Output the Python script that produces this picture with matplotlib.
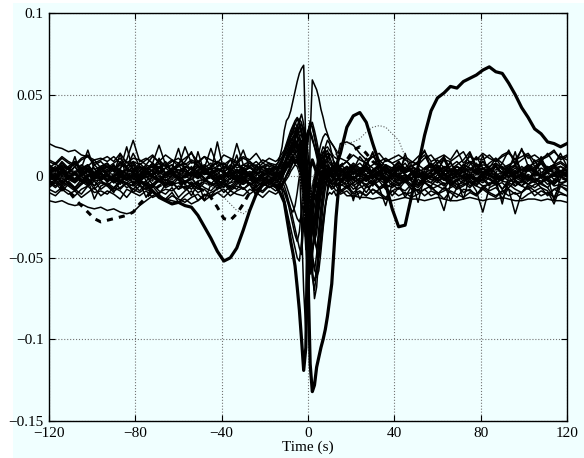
import matplotlib
matplotlib.use("Agg")
import matplotlib.pyplot as plt
import numpy as np
from matplotlib.patches import Rectangle

# sample times (s): coarse outside the event, 1 s steps around it
t = np.r_[np.arange(-120, -14, 3), np.arange(-14, 15, 1), np.arange(15, 121, 3)]

# thin traces, values in 1e-3 units (left | centre | right)
thin_traces = [
    [20, 18, 17, 15, 16, 13, 12, 10, 11, 9, 12, 8, 10, 22, 9, 11, 8, 19, 7, 10, 6, 18, 8, 9, 5, 17, 6, 8, 5, 20, 7, 6, 9, 5, 7, 6,
     8, 12, 18, 28, 34, 36, 40, 46, 52, 58, 63, 66, 68, 20, -40, -55, -45, -28, -12, -2, 4, 8, 6, 3, 5, 2, 4, 1, 3,
     4, 2, 6, 3, 8, 5, 2, 7, 4, 9, 3, 6, 2, 5, 8, 4, 10, 3, 6, 2, 7, 12, 5, 3, 8, 4, 6, 11, 3, 7, 5, 9, 4, 6, 8, 5],
    [-15, -16, -15, -17, -18, -17, -19, -20, -19, -21, -20, -22, -23, -22, -18, -15, -12, -10, -8, -9, -6, -7, -5, -8, -4, -6, -3, -5, -7, -4, -2, -5, -3, -6, -4, -2,
     -3, 0, 4, 8, 12, 15, 18, 20, 22, 18, 12, 5, -10, -40, -70, 25, 59, 56, 53, 48, 41, 36, 30, 26, 22, 20, 18, 15, 10,
     -8, -12, -12, -13, -13, -14, -13, -14, -15, -14, -13, -14, -14, -15, -14, -13, -14, -15, -15, -14, -13, -14, -15, -14, -14, -13, -14, -15, -15, -14, -14, -15, -14, -15, -15, -16],
    [6, 3, 8, 4, 1, 5, 7, 2, 4, 6, 3, 9, 5, 2, 6, 4, 8, 3, 5, 7, 2, 6, 4, 9, 3, 5, 1, 6, 4, 8, 3, 5, 7, 2, 4, 6,
     5, 8, 10, 14, 18, 20, 24, 26, 28, 24, 10, -30, -70, -95, -80, -50, -25, -10, 0, 6, 10, 12, 8, 5, 3, 6, 4, 2, 5,
     3, 6, 2, 5, 1, 4, 7, 3, 0, 5, 2, 6, 4, 1, 8, 3, 5, 2, 6, 4, 9, 2, 5, 3, 7, 1, 4, 6, 2, 5, 3, 8, 4, 2, 6, 3],
    [-4, -7, -3, -6, -9, -5, -2, -8, -4, -6, -10, -3, -7, -5, -9, -4, -6, -11, -5, -3, -8, -6, -12, -4, -7, -9, -5, -10, -6, -3, -8, -5, -9, -4, -7, -5,
     -6, -4, -2, 2, 6, 10, 14, 18, 22, 26, 30, 32, 28, 15, -5, -30, -55, -75, -68, -50, -32, -18, -8, -2, 2, 0, -3, -5, -4,
     -6, -3, -8, -5, -10, -4, -7, -18, -5, -8, -3, -6, -9, -4, -7, -10, -21, -5, -8, -6, -3, -9, -22, -7, -5, -4, -8, -23, -10, -5, -3, -7, -9, -17, -6, -8],
    [2, -1, 4, 0, -3, 3, 1, -2, 5, 0, -4, 2, -1, 3, -2, 1, 4, -3, 0, 2, -1, 5, -2, 1, -4, 3, 0, -1, 2, -3, 4, 1, -2, 0, 3, -1,
     1, 3, 0, 4, 7, 10, 15, 20, 25, 30, 35, 33, 25, 10, -20, -60, -50, -35, -20, -8, 2, 10, 18, 22, 20, 14, 8, 4, 2,
     0, 3, -2, 1, 4, -1, 2, -3, 0, 5, 1, -2, 3, 0, -1, 4, 2, -3, 1, 0, 3, -2, 2, 5, -1, 0, 3, 1, -2, 4, 0, 2, -1, 3, 1, 0],
    [9, 7, 11, 8, 6, 10, 12, 7, 9, 5, 8, 11, 6, 9, 7, 10, 13, 8, 6, 9, 11, 7, 10, 8, 12, 6, 9, 7, 10, 8, 11, 9, 6, 10, 8, 7,
     8, 10, 12, 15, 19, 22, 25, 27, 30, 26, 20, 5, -20, -45, -38, -25, -12, -2, 6, 14, 20, 24, 26, 25, 22, 20, 18, 16, 14,
     20, 21, 19, 14, 10, 12, 9, 11, 8, 10, 12, 9, 7, 11, 13, 8, 10, 9, 12, 15, 8, 11, 10, 13, 9, 12, 14, 10, 16, 11, 13, 10, 12, 15, 11, 13],
    [-2, 1, -5, -1, 2, -3, -6, 0, -2, 3, -4, -1, 1, -5, -2, 0, -3, 2, -6, -1, 1, -4, -2, 3, -1, -5, 0, -3, 1, -2, -4, 2, -1, -3, 0, -2,
     0, -2, 1, 3, 5, 8, 12, 15, 18, 22, 24, 20, 12, 0, -15, -28, -35, -30, -20, -10, -2, 4, 8, 6, 3, 0, -2, 1, -1,
     -3, 1, -2, -5, 0, -4, 2, -1, -6, -2, 1, -3, -5, 0, -2, -4, 1, -6, -3, 0, -2, -5, 1, -1, -4, -2, 0, -6, -3, 1, -2, -4, 0, -5, -1, -3],
    [4, 2, 6, 1, 3, 5, 0, 7, 3, 2, 5, 4, 18, 3, 6, 1, 4, 8, 2, 5, 17, 3, 1, 6, 4, 2, 21, 3, 5, 1, 4, 6, 2, 3, 5, 1,
     3, 5, 4, 7, 10, 12, 16, 18, 20, 17, 10, 0, -15, -30, -25, -15, -6, 0, 5, 8, 10, 12, 9, 6, 4, 2, 5, 3, 1,
     2, 5, 1, 4, 3, 0, 6, 2, 4, 1, 3, 5, 0, 2, 4, 6, 1, 3, 0, 5, 2, 4, 1, 3, 6, 0, 2, 5, 1, 4, 3, 0, 2, 5, 1, 3],
    [-8, -10, -7, -9, -12, -8, -6, -10, -9, -11, -7, -9, -13, -8, -10, -7, -9, -12, -14, -10, -16, -12, -9, -15, -11, -13, -10, -8, -12, -9, -7, -11, -8, -10, -6, -9,
     -8, -6, -5, -3, 0, 3, 6, 10, 14, 16, 15, 12, 6, 0, -8, -15, -20, -24, -25, -20, -12, -5, 0, -3, -6, -8, -7, -9, -8,
     -10, -7, -11, -9, -12, -8, -10, -13, -9, -7, -11, -10, -8, -12, -9, -11, -7, -10, -13, -8, -9, -11, -7, -10, -12, -9, -8, -11, -10, -7, -12, -9, -11, -8, -10, -12],
    [1, 4, -2, 2, 6, 0, 3, -1, 5, 2, -3, 4, 1, 7, -1, 3, 0, 5, 2, -2, 4, 1, 6, -1, 3, 0, 5, 2, -2, 4, 1, 3, 0, 6, 2, 4,
     3, 6, 8, 12, 14, 18, 22, 24, 26, 28, 30, 26, 20, 12, 2, -10, -22, -35, -45, -50, -42, -30, -18, -8, 0, 4, 6, 3, 5,
     4, 1, 5, 2, 7, 0, 3, 6, 1, 4, 8, 2, 5, 0, 3, 6, 2, 9, 1, 4, 3, 7, 0, 5, 2, 8, 4, 1, 6, 3, 10, 2, 5, 7, 3, 6],
    [-1, -3, 0, -2, -4, -1, 1, -3, -2, 0, -4, -2, -5, -3, -6, -8, -10, -12, -14, -15, -16, -14, -17, -15, -12, -10, -8, -6, -4, -3, -5, -2, -4, -1, -3, 0,
     -2, -5, -9, -14, -20, -26, -32, -38, -44, -50, -52, -40, -15, 10, 24, 28, 24, 18, 12, 6, 2, 0, -2, 1, -1, -3, 0, -2, 0,
     -2, 0, -4, -1, -3, 1, -2, -5, 0, -3, -1, 2, -4, -2, 0, -3, -6, -1, -2, 1, -4, -3, 0, -2, -5, -1, 2, -3, -4, 0, -2, -1, -5, -3, 0, -2],
    [5, 8, 3, 6, 9, 4, 7, 2, 6, 8, 3, 5, 9, 4, 6, 2, 7, 5, 9, 3, 6, 8, 4, 7, 2, 5, 9, 6, 3, 7, 5, 8, 4, 6, 3, 5,
     4, 7, 10, 13, 17, 20, 24, 28, 32, 35, 32, 26, 18, 8, -5, -20, -32, -40, -35, -22, -10, -2, 5, 10, 14, 12, 9, 7, 5,
     6, 9, 4, 12, 7, 14, 5, 10, 8, 3, 11, 6, 9, 13, 5, 8, 12, 4, 7, 10, 15, 6, 9, 5, 11, 8, 16, 7, 10, 13, 6, 9, 14, 8, 12, 10],
    [3, 6, 1, 5, 2, 7, 4, 0, 5, 3, 6, 2, 4, 8, 1, 5, 3, 6, 2, 4, 7, 1, 5, 3, 6, 0, 4, 2, 7, 3, 5, 1, 6, 4, 2, 5,
     4, 2, 5, 7, 9, 12, 15, 18, 16, 14, 10, 4, -4, -12, -18, -22, -16, -8, -2, 3, 6, 4, 2, 5, 3, 1, 4, 2, 5,
     2, 6, 3, 0, 5, 2, 7, 4, 1, 6, 3, 5, 0, 4, 7, 2, 5, 1, 6, 3, 4, 8, 2, 5, 0, 3, 6, 2, 4, 7, 1, 5, 3, 6, 2, 4],
    [-3, -6, -1, -4, -7, -2, -5, 0, -3, -6, -2, -8, -4, -1, -5, -3, -7, -2, -4, -6, -1, -5, -8, -3, -2, -6, -4, -7, -1, -3, -5, -2, -6, -4, -1, -3,
     -2, -4, -1, 2, 5, 8, 11, 14, 17, 20, 18, 12, 2, -10, -25, -38, -45, -40, -28, -15, -6, 0, 3, 1, -2, -4, -1, -3, -2,
     -4, -1, -6, -3, -5, -2, -7, -4, 0, -5, -3, -8, -2, -4, -6, -1, -5, -3, -7, -2, -4, -6, -1, -5, -3, -8, -2, -4, -6, -3, -1, -5, -7, -2, -4, -3],
    [0, 2, -2, 1, 12, -1, 3, 0, -3, 2, 1, 14, -2, 0, 3, -1, 2, 11, 0, -2, 1, 3, -1, 15, 2, 0, -3, 1, 2, 13, -1, 0, 2, -2, 1, 0,
     1, 3, 0, -3, -6, -10, -14, -18, -22, -26, -28, -24, -10, 10, 22, 30, 33, 28, 22, 15, 9, 5, 2, 0, 3, 1, -1, 2, 0,
     0, 3, -1, 2, 11, 0, -2, 3, 1, -1, 14, 2, 0, -3, 1, 2, 12, -1, 0, 3, -2, 1, 13, 0, 2, -1, 3, 15, 0, -2, 1, 12, 2, 0, -1, 1],
    [7, 4, 9, 5, 8, 3, 6, 10, 5, 7, 4, 8, 6, 9, 3, 7, 5, 10, 6, 4, 8, 5, 9, 7, 3, 6, 8, 4, 10, 5, 7, 9, 4, 6, 8, 5,
     6, 8, 11, 14, 18, 22, 26, 30, 33, 30, 24, 15, 5, -6, -15, -20, -14, -6, 2, 8, 12, 15, 13, 10, 8, 6, 9, 7, 5,
     6, 9, 5, 8, 4, 7, 10, 6, 3, 8, 5, 9, 7, 4, 6, 10, 5, 8, 3, 7, 9, 6, 4, 8, 11, 5, 7, 9, 4, 6, 8, 10, 5, 7, 9, 6],
    [-7, -4, -9, -5, -8, -11, -6, -3, -8, -5, -9, -7, -4, -10, -6, -8, -5, -9, -11, -7, -13, -9, -6, -10, -8, -12, -7, -5, -9, -6, -8, -4, -7, -9, -5, -7,
     -6, -8, -5, -3, 0, 2, 5, 8, 10, 12, 9, 4, -5, -16, -30, -48, -62, -70, -58, -40, -24, -12, -4, -2, -5, -7, -4, -6, -8,
     -9, -6, -10, -7, -5, -11, -8, -6, -12, -7, -9, -5, -10, -8, -6, -11, -9, -7, -5, -10, -8, -12, -6, -9, -7, -11, -5, -8, -10, -6, -9, -7, -12, -8, -6, -9],
    [1, -2, 4, 0, 2, -1, 3, 5, -2, 1, 4, -1, 2, 0, 5, -3, 1, 3, -1, 2, 4, 0, -2, 3, 1, 5, -1, 2, 0, 4, -2, 1, 3, 0, 2, -1,
     2, 0, 3, 5, 8, 11, 14, 17, 19, 21, 24, 26, 22, 8, -12, -32, -50, -58, -48, -32, -18, -8, 0, 4, 2, -1, 1, 3, 0,
     2, -1, 3, 1, -3, 4, 0, 2, -2, 5, 1, -1, 3, 0, 2, -2, 4, 1, -1, 3, 0, 5, -2, 2, 1, -3, 3, 0, 4, -1, 2, 1, -2, 3, 0, 2],
    [-1, 1, -3, 0, -2, 2, -4, -1, 1, -2, 0, -3, 2, -1, -4, 1, -2, 0, -3, 1, -1, -5, 0, 2, -2, -1, -4, 1, 0, -3, -1, 2, -2, 0, -3, -1,
     0, -2, 1, 3, 6, 9, 13, 16, 14, 11, 6, -2, -12, -22, -28, -24, -15, -6, 2, 8, 14, 18, 16, 10, 5, 2, 0, -2, -1,
     -2, 0, -15, -1, -3, 1, -2, 0, -4, -1, 1, -3, -16, 0, -2, -1, 1, -4, -2, -14, 0, -1, -3, 1, -2, -17, 0, -1, -3, 1, -2, -4, 0, -15, -1, -2],
    [5, 2, 6, 4, 8, 3, 5, 1, 6, 4, 7, 2, 5, 3, 8, 4, 6, 2, 5, 7, 3, 6, 4, 1, 5, 8, 3, 6, 4, 2, 7, 5, 3, 6, 4, 5,
     4, 6, 5, 8, 12, 16, 19, 23, 27, 30, 34, 38, 32, 20, 4, -14, -30, -38, -30, -18, -6, 3, 9, 12, 10, 7, 5, 6, 4,
     5, 3, 7, 4, 6, 2, 8, 5, 3, 6, 4, 7, 1, 5, 8, 3, 6, 4, 2, 7, 5, 3, 9, 4, 6, 2, 5, 7, 3, 6, 4, 8, 2, 5, 6, 4],
    [-5, -2, -6, -3, -7, -4, -1, -6, -3, -5, -8, -2, -4, -6, -3, -7, -5, -2, -6, -4, -8, -3, -5, -7, -2, -4, -6, -3, -8, -5, -2, -4, -7, -3, -5, -4,
     -4, -6, -8, -10, -14, -18, -24, -30, -36, -40, -34, -20, 0, 18, 28, 32, 30, 24, 16, 8, 2, -2, -4, -6, -3, -5, -4, -6, -5,
     -3, -6, -4, -2, -7, -5, -3, -8, -4, -6, -2, -5, -7, -3, -4, -6, -8, -2, -5, -4, -7, -3, -6, -5, -2, -8, -4, -6, -3, -5, -7, -4, -2, -6, -5, -3],
    [2, 5, 0, 3, 1, 4, 6, 2, -1, 3, 5, 1, 4, 2, 0, 6, 3, 1, 5, 2, 4, 0, 3, 6, 1, 2, 5, 3, 0, 4, 2, 6, 1, 3, 5, 2,
     3, 1, 4, 6, 9, 12, 16, 20, 24, 28, 31, 28, 20, 6, -8, -16, -22, -18, -10, -2, 5, 10, 14, 16, 12, 8, 5, 3, 4,
     3, 0, 4, 2, 5, 1, 3, 6, 2, 0, 4, 3, 5, 1, 2, 6, 0, 3, 4, 2, 5, 1, 3, 0, 6, 2, 4, 1, 3, 5, 2, 0, 4, 3, 1, 2],
    [-2, 0, -4, -1, -3, 1, -5, -2, 0, -3, -1, -4, 2, -2, -3, 0, -5, -1, -2, -4, 0, -3, -1, -6, -2, 1, -3, -4, -1, -2, 0, -5, -3, -1, -2, -4,
     -3, -1, 0, 2, 4, 7, 9, 12, 15, 18, 20, 22, 16, 4, -10, -24, -34, -40, -44, -36, -24, -12, -4, 0, -2, -3, -1, -4, -2,
     -1, -3, 0, -4, -2, -5, -1, -3, 1, -2, -4, -1, -6, -2, 0, -3, -1, -5, -2, -4, 0, -3, -2, -6, -1, -3, -4, 0, -2, -5, -1, -3, -2, -4, 0, -2],
    [6, 3, 7, 4, 9, 5, 16, 4, 6, 8, 3, 7, 5, 14, 6, 4, 8, 5, 7, 3, 6, 9, 15, 5, 7, 4, 6, 8, 3, 7, 16, 5, 4, 8, 6, 5,
     5, 7, 9, 12, 15, 18, 21, 24, 26, 28, 25, 18, 8, -4, -16, -26, -30, -25, -16, -6, 2, 8, 12, 14, 11, 8, 6, 7, 5,
     7, 4, 8, 5, 6, 15, 3, 7, 5, 9, 4, 6, 8, 16, 5, 7, 3, 6, 9, 5, 14, 4, 7, 6, 8, 5, 3, 7, 17, 6, 4, 8, 5, 7, 14, 6],
    [-6, -3, -7, -4, -8, -5, -2, -14, -6, -4, -7, -3, -5, -8, -4, -13, -6, -3, -7, -5, -4, -8, -6, -3, -15, -5, -7, -4, -6, -8, -3, -5, -12, -6, -4, -5,
     -5, -7, -4, -2, 1, 4, 6, 9, 11, 13, 14, 10, 2, -8, -20, -34, -48, -56, -62, -58, -46, -32, -20, -10, -4, -5, -7, -4, -6,
     -5, -7, -4, -14, -6, -3, -8, -5, -7, -4, -13, -6, -5, -3, -8, -6, -4, -15, -7, -5, -3, -6, -8, -4, -5, -14, -7, -3, -6, -8, -5, -4, -7, -13, -5, -6],
    [0, -2, 2, -1, 1, 3, -3, 0, 2, -2, 1, -1, 3, 0, -2, 2, -1, 1, -3, 0, 2, -1, 1, 3, -2, 0, 1, -1, 2, -3, 0, 1, -2, 2, 0, -1,
     1, -1, -3, -6, -10, -15, -20, -26, -32, -38, -44, -48, -30, 5, 26, 34, 30, 24, 18, 12, 6, 2, 0, 3, 1, -1, 2, 0, 1,
     1, -2, 2, 0, -1, 3, -3, 1, 0, 2, -2, 1, -1, 3, 0, -2, 2, -1, 1, -3, 0, 2, -1, 3, 1, -2, 0, 2, -1, 1, -3, 0, 2, -2, 1, 0],
    [10, 8, 12, 9, 7, 11, 13, 8, 10, 12, 9, 14, 8, 11, 10, 7, 12, 9, 13, 10, 8, 11, 14, 9, 12, 10, 8, 13, 11, 9, 12, 10, 14, 8, 11, 9,
     10, 12, 14, 16, 20, 24, 28, 31, 34, 36, 34, 28, 18, 6, -6, -14, -18, -12, -4, 4, 10, 14, 17, 18, 16, 14, 12, 11, 10,
     11, 9, 13, 10, 8, 12, 14, 9, 11, 13, 10, 8, 12, 15, 9, 11, 13, 10, 16, 8, 12, 10, 14, 11, 9, 13, 15, 10, 12, 14, 9, 11, 13, 16, 10, 12],
    [-10, -12, -8, -11, -9, -13, -10, -7, -12, -9, -11, -14, -8, -10, -12, -9, -13, -11, -15, -12, -14, -16, -13, -11, -15, -12, -10, -13, -9, -11, -12, -8, -10, -13, -9, -11,
     -10, -8, -6, -4, -2, 0, 3, 5, 7, 6, 2, -6, -16, -28, -40, -52, -60, -64, -58, -48, -36, -26, -18, -12, -10, -11, -9, -12, -10,
     -11, -9, -13, -10, -12, -8, -11, -14, -9, -12, -10, -13, -11, -8, -12, -10, -14, -9, -11, -13, -10, -12, -8, -11, -13, -9, -12, -10, -14, -11, -9, -12, -10, -13, -11, -12],
    [4, -1, 5, 1, 6, 0, 3, -2, 4, 2, 7, -1, 3, 5, 0, 4, 1, 6, -1, 3, 2, 5, 0, 4, 6, 1, 3, -2, 5, 2, 4, 0, 6, 1, 3, 2,
     2, 5, 3, 6, 10, 14, 18, 21, 23, 25, 27, 29, 30, 26, 14, -4, -20, -30, -26, -14, -4, 4, 10, 8, 5, 3, 4, 2, 3,
     4, 0, 5, 2, 6, -1, 3, 5, 1, 7, 2, 4, -1, 5, 3, 6, 0, 4, 2, 7, 1, 3, 5, -1, 4, 6, 2, 3, 0, 5, 4, 1, 6, 2, 3, 4],
    [-3, 1, -5, -1, -4, 2, -2, -6, 0, -3, -1, -5, 1, -4, -2, -6, 0, -3, -5, 1, -2, -4, -1, -6, -3, 0, -5, -2, -4, 1, -3, -1, -5, -2, 0, -3,
     -2, -4, -6, -9, -12, -16, -20, -22, -18, -10, 0, 10, 18, 24, 28, 26, 22, 18, 14, 10, 6, 2, -1, -3, -2, -4, -1, -3, -2,
     -2, -5, 0, -3, -1, -6, 1, -4, -2, -5, 0, -3, -6, -1, -4, 1, -2, -5, -3, 0, -6, -2, -4, -1, -5, 0, -3, -2, -6, -1, -4, 0, -3, -5, -1, -2],
]

# thick solid traces
thick_a = [1, -2, 3, -1, 2, -3, 0, 2, -2, 1, -3, 0, -2, 1, -3, -5, -9, -13, -15, -17, -16, -18, -19, -24, -31, -38, -46, -52, -50, -44, -33, -21, -11, -5, -3, -6,
           -8, -10, -13, -16, -24, -32, -40, -47, -55, -68, -82, -100, -119, -105, -20, 5, 10, 6, 2, 8, 10, 6, 3, 0, 2, 5, 3, 6, 10,
           14, 30, 37, 39, 33, 20, 8, -5, -20, -31, -30, -12, 6, 25, 40, 48, 51, 55, 54, 58, 60, 62, 65, 67, 64, 63, 57, 50, 42, 36, 29, 26, 21, 20, 18, 20]
thick_b = [2, -1, 3, 0, -2, 1, 4, -1, 2, -3, 0, 3, -2, 1, -1, 2, 0, -3, 1, 3, -2, 0, 2, -1, 4, 1, -2, 0, 3, -1, 2, 0, -3, 1, 2, 0,
           2, -1, 3, 5, 8, 6, 10, 12, 8, 10, 6, 4, 2, -10, -60, -115, -132, -128, -117, -111, -105, -100, -94, -86, -76, -66, -46, -25, -10,
           -3, 1, -2, 2, 0, -1, 3, -2, 1, 0, -3, 2, 1, -1, 0, 3, -2, 1, 2, -1, 0, -3, 2, 1, -2, 0, 3, -1, 1, -2, 2, 0, -1, 1, 3, 0]
# thick dashed trace
dashed = [-3, -5, -7, -9, -14, -18, -22, -26, -28, -27, -26, -25, -24, -22, -17, -13, -9, -6, -4, -5, -3, -6, -4, -7, -9, -13, -19, -26, -27, -23, -17, -10, -6, -3, -1, 2,
          3, 5, 6, 8, 10, 13, 16, 18, 20, 22, 18, 8, -10, -35, -50, -40, -25, -12, -4, 2, 6, 8, 5, 3, 1, 4, 2, 5, 3,
          6, 10, 16, 18, 14, 9, 6, 3, 5, 2, 4, 1, 3, 0, 2, 4, 1, -1, 3, 2, 0, 4, 1, 3, -1, 2, 0, 3, 1, -2, 2, 0, 3, 1, -1, 2]
# thin dotted trace
dotted = [0, 3, -2, 1, 4, -1, 2, 0, -3, 2, 1, -2, 3, 0, -1, 2, -3, 1, 0, -2, 3, 1, -1, -1, -4, -6, -9, -13, -17, -21, -23, -20, -12, -5, -1, 2,
          2, 4, 3, 6, 8, 10, 12, 14, 12, 8, 2, -8, -20, -28, -22, -12, -4, 2, 6, 5, 3, 6, 8, 7, 9, 10, 12, 14, 16,
          18, 20, 21, 23, 27, 30, 31, 30, 26, 22, 12, 5, 2, 4, 0, 3, -1, 2, 1, -2, 3, 0, 2, -1, 4, 1, -2, 0, 3, 1, -1, 2, 0, 3, -2, 1]

xticks = [-120, -80, -40, 0, 40, 80, 120]
yticks = [-0.15, -0.1, -0.05, 0, 0.05, 0.1]
ytick_labels = ["\u22120.15", "\u22120.1", "\u22120.05", "0", "0.05", "0.1"]

plt.rcParams['font.family'] = ['Liberation Serif', 'DejaVu Serif']

fig = plt.figure(figsize=(5.84, 4.58), dpi=100)
fig.patch.set_facecolor('white')
fig.patches.append(Rectangle((13 / 584, 0), 1, 1 - 3 / 458, transform=fig.transFigure,
                             facecolor='#f0ffff', edgecolor='none', zorder=-10))
ax = fig.add_axes([49 / 584, 37 / 458, 518 / 584, 408 / 458])
ax.set_facecolor('#f0ffff')

for tr in thin_traces:
    ax.plot(t, np.array(tr) / 1000, color='black', linewidth=1.1)
ax.plot(t, np.array(dotted) / 1000, color='0.35', linewidth=0.8, linestyle=':')
ax.plot(t, np.array(dashed) / 1000, color='black', linewidth=2.2, linestyle=(0, (2.0, 2.0)))
ax.plot(t, np.array(thick_b) / 1000, color='black', linewidth=2.3)
ax.plot(t, np.array(thick_a) / 1000, color='black', linewidth=2.3)

ax.set_xlim(-120, 120)
ax.set_ylim(-0.15, 0.1)
ax.set_xticks(xticks)
ax.set_xticklabels([str(x).replace('-', '\u2212') for x in xticks])
ax.set_yticks(yticks)
ax.set_yticklabels(ytick_labels)
ax.tick_params(direction='in', top=True, right=True, length=4, width=0.8,
               labelsize=11, pad=4)
ax.grid(True, linestyle=':', color='0.45', linewidth=0.8)
for s in ax.spines.values():
    s.set_linewidth(1.0)
ax.set_xlabel("Time (s)", fontsize=11, labelpad=1)

fig.savefig("out.png", dpi=100, facecolor=fig.get_facecolor())
